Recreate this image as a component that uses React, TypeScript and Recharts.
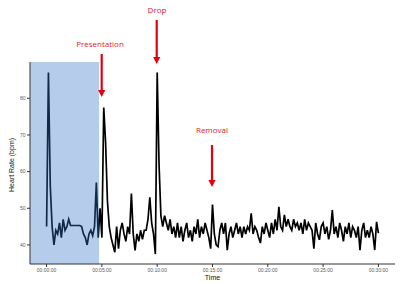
import { LineChart, Line, XAxis, YAxis, ReferenceArea } from "recharts";

// heart rate, one reading every 10 s from 00:00:00 to 00:30:00
const STEP_SEC = 10;
const heartRate = [
  45, 87, 56, 45, 40, 44,
  43, 46, 42, 47, 44, 45,
  47, 45.3, 45.3, 45.3, 45.3, 45.3,
  45.3, 45, 43, 42, 40, 43,
  44, 42.5, 45, 57, 42, 50,
  42, 77.5, 68, 52, 45, 42,
  40, 38, 45, 39, 44, 46,
  43, 41, 45, 43, 54, 43,
  38.5, 43, 41, 44, 41.5, 44,
  44, 47, 53, 46, 43, 37.5,
  87, 62, 48, 45, 48, 46,
  44, 47, 43, 45, 42, 46,
  42, 45, 41, 44, 46, 42,
  44, 41, 45, 43, 47, 42,
  45, 43, 46, 44, 42, 39,
  51, 43, 40, 39.5, 44, 46,
  43, 46, 38.6, 43, 45, 42,
  44, 46, 43, 45, 42, 45,
  43, 45, 44, 48.6, 43, 45,
  44, 42, 40.5, 45, 43, 46,
  44, 42, 46, 43, 47, 44,
  50.4, 45, 44, 48.2, 45, 47,
  45, 44, 47, 45, 46, 44,
  46, 43, 47, 44, 46, 45,
  44, 39, 46, 43, 41.4, 45,
  46, 43, 45, 41.5, 44, 49.5,
  43, 45, 42, 46, 44, 41,
  45, 43, 46, 42, 45, 44,
  42, 45, 38.6, 44, 46, 42,
  44, 42, 45, 43, 38.6, 46.3,
  43.2,
];

const xTicks = [0, 300, 600, 900, 1200, 1500, 1800];
const yTicks = [40, 50, 60, 70, 80];
const baselineWindow = [-90, 285]; // seconds, shaded baseline period

const data = heartRate.map((hr, i) => ({ t: i * STEP_SEC, hr }));
const lastT = (heartRate.length - 1) * STEP_SEC;
// where the baseline window ends along the line's own x extent
const shadeStop = baselineWindow[1] / lastT;

const pad = (n: number) => String(n).padStart(2, "0");
const fmtTime = (s: number) =>
  `${pad(Math.floor(s / 3600))}:${pad(Math.floor((s % 3600) / 60))}:${pad(s % 60)}`;

const tick = { fill: "#5a5a5a", fontSize: 5, fontFamily: "Liberation Sans, Arial, sans-serif" };
const red = "#e3000f";
const noteFont = { fill: "#e0191f", fontSize: 8, fontFamily: "Open Sans, sans-serif" };

function Arrow({ x, y1, y2 }: { x: number; y1: number; y2: number }) {
  return (
    <g>
      <line x1={x} y1={y1} x2={x} y2={y2 - 6} stroke={red} strokeWidth={2.2} />
      <polygon points={`${x - 3.6},${y2 - 7} ${x + 3.6},${y2 - 7} ${x},${y2}`} fill={red} />
    </g>
  );
}

export default function App() {
  return (
    <div style={{ position: "fixed", left: 0, top: 0, width: 400, height: 284, background: "#fff" }}>
      <LineChart width={400} height={284} data={data} margin={{ top: 62, right: 5, left: 0, bottom: 6 }}>
        <defs>
          <linearGradient id="hrStroke" x1="0" y1="0" x2="1" y2="0">
            <stop offset={0} stopColor="#13294a" />
            <stop offset={shadeStop} stopColor="#13294a" />
            <stop offset={shadeStop} stopColor="#000" />
            <stop offset={1} stopColor="#000" />
          </linearGradient>
        </defs>
        <ReferenceArea
          x1={baselineWindow[0]}
          x2={baselineWindow[1]}
          y1={34.8}
          y2={89.9}
          fill="#3578c8"
          fillOpacity={0.37}
          stroke="none"
        />
        <XAxis
          dataKey="t"
          type="number"
          domain={[-90, 1890]}
          ticks={xTicks}
          tickFormatter={fmtTime}
          tick={tick}
          tickSize={3}
          tickMargin={1}
          height={14}
          stroke="#333"
          allowDataOverflow
        />
        <YAxis
          type="number"
          domain={[34.8, 89.9]}
          ticks={yTicks}
          tick={tick}
          tickSize={3}
          tickMargin={1.5}
          width={30}
          stroke="#333"
          allowDataOverflow
        />
        <Line
          dataKey="hr"
          type="linear"
          stroke="url(#hrStroke)"
          strokeWidth={1.7}
          dot={false}
          isAnimationActive={false}
        />
      </LineChart>
      <svg
        width={400}
        height={284}
        style={{ position: "absolute", left: 0, top: 0, pointerEvents: "none" }}
      >
        <text x={100} y={47} textAnchor="middle" {...noteFont}>Presentation</text>
        <Arrow x={101.7} y1={54} y2={97} />
        <text x={157} y={13} textAnchor="middle" {...noteFont}>Drop</text>
        <Arrow x={156.7} y1={20} y2={64} />
        <text x={212} y={133} textAnchor="middle" {...noteFont}>Removal</text>
        <Arrow x={212} y1={145} y2={187} />
        <text
          x={12}
          y={165}
          textAnchor="middle"
          dominantBaseline="middle"
          transform="rotate(-90 12 165)"
          fill="#111"
          fontSize={7}
          fontFamily="Liberation Sans, Arial, sans-serif"
        >
          Heart Rate (bpm)
        </text>
        <text x={212.5} y={280} textAnchor="middle" fill="#111" fontSize={7} fontFamily="Liberation Sans, Arial, sans-serif">
          Time
        </text>
      </svg>
    </div>
  );
}
